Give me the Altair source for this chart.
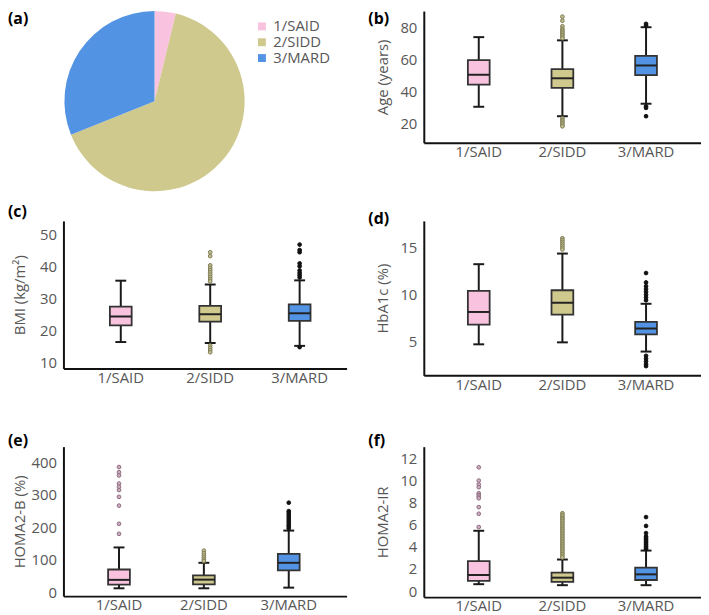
import altair as alt
import pandas as pd

cats = ["1/SAID", "2/SIDD", "3/MARD"]
pie_pct = [3.8, 65.1, 31.1]

box_colors = ["#f9c3df", "#cfc98e", "#5393e3"]
out_stroke = ["#8c6b80", "#7d7b55", "#111111"]
out_fill = ["#cfadc1", "#c2be8f", "#111111"]

# (b) Age
age_lo = [30.7, 24.8, 32.6]
age_q1 = [44.5, 42.5, 50.5]
age_med = [50.7, 48.5, 56.5]
age_q3 = [59.8, 54.2, 62.5]
age_hi = [74.2, 72.2, 80.4]
age_out_said = []
age_out_sidd = [87.0, 84.5, 81.0, 79.5, 78.5, 77.5, 76.5, 75.5, 74.5, 73.5,
                23.5, 22.5, 21.5, 20.5, 19.5, 18.5]
age_out_mard = [81.5, 82.5, 31.0, 30.0, 24.8]

# (c) BMI
bmi_lo = [16.4, 16.1, 15.2]
bmi_q1 = [21.6, 22.8, 23.0]
bmi_med = [24.4, 25.1, 25.4]
bmi_q3 = [27.5, 27.7, 28.2]
bmi_hi = [35.6, 34.4, 35.7]
bmi_out_said = []
bmi_out_sidd = [44.5, 43.3, 40.4, 39.6, 38.9, 38.2, 37.5, 36.8, 36.1, 35.4,
                15.3, 14.6, 13.9, 13.2]
bmi_out_mard = [46.9, 45.2, 44.5, 41.0, 40.1, 38.8, 38.0, 37.3, 36.6, 14.8]

# (d) HbA1c
hba_lo = [4.72, 4.93, 3.95]
hba_q1 = [6.82, 7.88, 5.77]
hba_med = [8.16, 9.14, 6.4]
hba_q3 = [10.4, 10.47, 7.1]
hba_hi = [13.24, 14.37, 9.03]
hba_out_said = []
hba_out_sidd = [16.0, 15.8, 15.6, 15.4, 15.2, 15.0, 14.8]
hba_out_mard = [12.3, 11.3, 10.9, 10.6, 10.3, 10.0, 9.7, 9.4, 3.5, 3.2, 2.9, 2.6, 2.4]

# (e) HOMA2-B
hb_lo = [12, 12, 14]
hb_q1 = [23, 24, 67]
hb_med = [38, 38.7, 90.6]
hb_q3 = [70, 52, 118]
hb_hi = [138, 90.6, 190]
hb_out_said = [386, 370, 360, 335, 325, 315, 294, 267, 211, 180]
hb_out_sidd = [128, 120, 113, 107, 101, 96]
hb_out_mard = [276, 250, 244, 238, 232, 226, 220, 214, 208, 203, 197]

# (f) HOMA2-IR
ir_lo = [0.63, 0.54, 0.54]
ir_q1 = [0.92, 0.83, 1.01]
ir_med = [1.46, 1.22, 1.52]
ir_q3 = [2.71, 1.67, 2.12]
ir_hi = [5.46, 2.86, 3.67]
ir_out_said = [11.2, 10.0, 9.65, 9.4, 8.85, 8.7, 8.55, 8.4, 7.6, 7.0, 5.8]
ir_out_sidd = [7.05, 6.9, 6.75, 6.6, 6.5, 6.35, 6.2, 6.05, 5.9, 5.75, 5.6, 5.45,
               5.3, 5.15, 5.0, 4.85, 4.7, 4.55, 4.4, 4.25, 4.1, 3.95, 3.8, 3.65,
               3.5, 3.35, 3.2, 3.05]
ir_out_mard = [6.7, 5.9, 5.25, 4.95, 4.8, 4.65, 4.5, 4.35, 4.2, 4.05, 3.9, 3.8]

FONT = "Open Sans"
GRAY = "#575757"


def letter_layer(letter, ly):
    return alt.Chart(pd.DataFrame({"t": [letter]})).mark_text(
        align="left", baseline="top", fontSize=16, fontWeight="bold",
        font=FONT, color="black"
    ).encode(text="t:N", x=alt.value(-56), y=alt.value(ly))


def box_panel(lo, q1, med, q3, hi, outs, ytitle, dom, ticks, width, height,
              po, al, letter, ly, ext, tpad):
    stats = pd.DataFrame({"cat": cats, "lo": lo, "q1": q1, "med": med,
                          "q3": q3, "hi": hi})
    orows = []
    for c, vals in zip(cats, outs):
        for v in vals:
            orows.append({"cat": c, "v": v})
    outdf = pd.DataFrame(orows, columns=["cat", "v"])

    xenc = alt.X("cat:N", scale=alt.Scale(domain=cats, paddingInner=0,
                                          paddingOuter=po, align=al),
                 axis=alt.Axis(title=None, labelAngle=0, labelPadding=2,
                               ticks=False, domainColor="#111111",
                               domainWidth=2))
    yscale = alt.Scale(domain=dom, nice=False, zero=False)
    yaxis = alt.Axis(values=ticks, title=ytitle, ticks=False, grid=False,
                     labelPadding=7, minExtent=ext, maxExtent=ext,
                     titlePadding=tpad, domainColor="#111111", domainWidth=2)

    def Y(f):
        return alt.Y(f"{f}:Q", scale=yscale, axis=yaxis, title=ytitle)

    base = alt.Chart(stats)
    whisk = base.mark_rule(color="#1a1a1a", strokeWidth=2).encode(
        x=xenc, y=Y("lo"), y2="hi")
    cap_lo = base.mark_tick(size=11, thickness=2, color="#1a1a1a",
                            opacity=1).encode(x=xenc, y=Y("lo"))
    cap_hi = base.mark_tick(size=11, thickness=2, color="#1a1a1a",
                            opacity=1).encode(x=xenc, y=Y("hi"))
    box = base.mark_bar(size=22, stroke="#333333", strokeWidth=1.8).encode(
        x=xenc, y=Y("q1"), y2="q3",
        color=alt.Color("cat:N", scale=alt.Scale(domain=cats, range=box_colors),
                        legend=None))
    medl = base.mark_tick(size=22, thickness=2, color="#222222",
                          opacity=1).encode(x=xenc, y=Y("med"))
    pts = alt.Chart(outdf).mark_point(shape="circle", size=14, strokeWidth=1,
                                      opacity=1).encode(
        x=xenc, y=Y("v"),
        fill=alt.Fill("cat:N", scale=alt.Scale(domain=cats, range=out_fill),
                      legend=None),
        stroke=alt.Stroke("cat:N", scale=alt.Scale(domain=cats, range=out_stroke),
                          legend=None))
    return alt.layer(whisk, cap_lo, cap_hi, box, medl, pts,
                     letter_layer(letter, ly)).properties(width=width,
                                                          height=height)


# (a) pie
pie_df = pd.DataFrame({"cat": cats, "pct": pie_pct})
pie = alt.Chart(pie_df).mark_arc(radius=91).encode(
    theta=alt.Theta("pct:Q", stack=True),
    order=alt.Order("cat:N"),
    color=alt.Color("cat:N", scale=alt.Scale(domain=cats, range=box_colors),
                    legend=alt.Legend(orient="none", legendX=193, legendY=8,
                                      title=None, symbolType="square",
                                      symbolSize=64, symbolStrokeWidth=0,
                                      labelFontSize=15, labelFont=FONT,
                                      labelColor=GRAY, rowPadding=-2,
                                      labelOffset=4)),
    x=alt.value(92), y=alt.value(91),
)
panel_a = alt.layer(pie, letter_layer("(a)", 0)).properties(width=286, height=140)

LW, RW = 286, 280
panel_b = box_panel(age_lo, age_q1, age_med, age_q3, age_hi,
                    [age_out_said, age_out_sidd, age_out_mard],
                    "Age (years)", [8.25, 90.5], [20, 40, 60, 80], RW, 133,
                    0.157, 0.5, "(b)", 0, 26, 8)
panel_c = box_panel(bmi_lo, bmi_q1, bmi_med, bmi_q3, bmi_hi,
                    [bmi_out_said, bmi_out_sidd, bmi_out_mard],
                    "BMI (kg/m²)", [8.14, 54.3], [10, 20, 30, 40, 50], LW, 149,
                    0.083, 0.85, "(c)", -17, 31, 5)
panel_d = box_panel(hba_lo, hba_q1, hba_med, hba_q3, hba_hi,
                    [hba_out_said, hba_out_sidd, hba_out_mard],
                    "HbA1c (%)", [1.42, 17.84], [5, 10, 15], RW, 156,
                    0.157, 0.5, "(d)", -10, 26, 8)
panel_e = box_panel(hb_lo, hb_q1, hb_med, hb_q3, hb_hi,
                    [hb_out_said, hb_out_sidd, hb_out_mard],
                    "HOMA2-B (%)", [-12.2, 448.9], [0, 100, 200, 300, 400], LW, 151,
                    0.168, 0.46, "(e)", -14, 31, 5)
panel_f = box_panel(ir_lo, ir_q1, ir_med, ir_q3, ir_hi,
                    [ir_out_said, ir_out_sidd, ir_out_mard],
                    "HOMA2-IR", [-0.54, 13.07], [0, 2, 4, 6, 8, 10, 12], RW, 152,
                    0.157, 0.5, "(f)", -14, 26, 8)

chart = alt.concat(
    panel_a, panel_b, panel_c, panel_d, panel_e, panel_f,
    columns=2,
    spacing={"row": 72, "column": 78},
    bounds="flush",
    align={"row": "none", "column": "each"},
).resolve_scale(
    color="independent", fill="independent", stroke="independent"
).properties(padding=0).configure_view(stroke=None).configure_axis(
    labelFont=FONT, labelFontSize=15, labelColor=GRAY,
    titleFont=FONT, titleFontSize=15, titleFontWeight="normal", titleColor=GRAY,
)

chart.save("out.html", embed_options={"renderer": "svg", "actions": False})
